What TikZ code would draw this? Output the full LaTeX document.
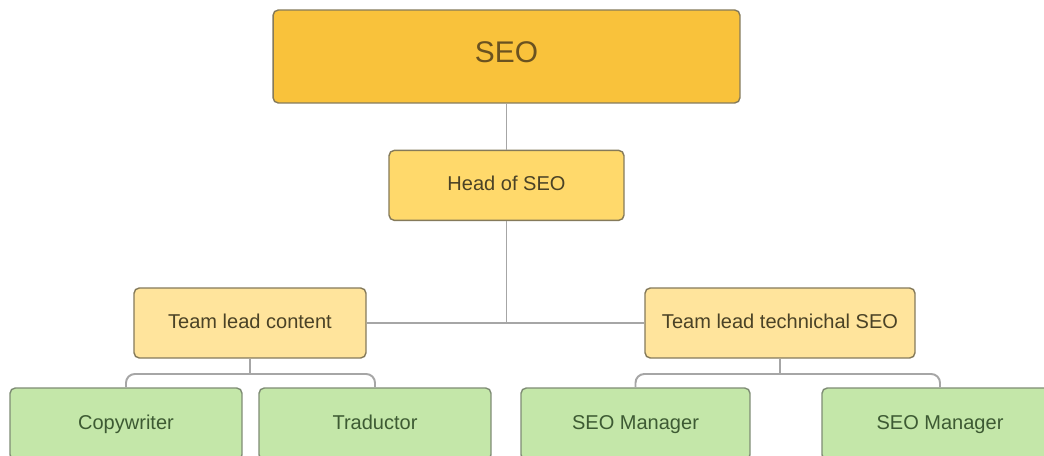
\documentclass[tikz,border=0pt]{standalone}
\usepackage{fontspec}
\setmainfont{Liberation Sans}
\usetikzlibrary{positioning}

\definecolor{seogold}{HTML}{F9C23B}
\definecolor{headyellow}{HTML}{FFD96B}
\definecolor{leadyellow}{HTML}{FFE49C}
\definecolor{staffgreen}{HTML}{C4E7A9}
\definecolor{boxedge}{HTML}{857A5A}
\definecolor{greenedge}{HTML}{7E8C74}
\definecolor{linegray}{HTML}{A6A6A6}
\definecolor{darktext}{HTML}{4A4226}
\definecolor{seotext}{HTML}{6A5220}
\definecolor{greentext}{HTML}{3D5A33}

\begin{document}
\begin{tikzpicture}[
			x=0.02cm, y=-0.02cm,
			nodes = {
				align = center
			},
			block/.style={
				draw=boxedge,
				rectangle,
				rounded corners=3pt,
				line width=0.8pt,
				inner sep=0pt,
				minimum height=1.4cm,
				text height=0.72em,
				text depth=0.1em,
				text=darktext,
				font=\fontsize{11.4}{13}\selectfont
			},
			staff/.style={
				block,
				draw=greenedge,
				fill=staffgreen,
				text=greentext,
				minimum height=1.44cm
			},
			lines/.style={
				draw=linegray,
				line width=1.1pt
			}
		]
			\useasboundingbox (0,0) rectangle (1044,456);
			\fill[white] (0,0) rectangle (1044,456);
			\clip (0,0) rectangle (1044,456);

			\node[block,fill=seogold,text=seotext,minimum width=9.34cm,minimum height=1.86cm,
				font=\fontsize{17}{20}\selectfont,text depth=0pt]
				(seo) at (506.5,56.5) {SEO};

			\node[block,fill=headyellow,minimum width=4.7cm]
				(head)
				[below=0.92cm of seo]
				{Head of SEO};

			\node[block,fill=leadyellow,minimum width=4.64cm] (tlc) at (250,323) {Team lead content};
			\node[block,fill=leadyellow,minimum width=5.4cm] (tlt) at (780,323) {Team lead technichal SEO};

			\node[staff,minimum width=4.64cm] (cw) at (126,424) {Copywriter};
			\node[staff,minimum width=4.64cm] (tr) at (375,424) {Traductor};
			\node[staff,minimum width=4.58cm] (sm1) at (635.5,424) {SEO Manager};
			\node[staff,minimum width=4.72cm] (sm2) at (940,424) {SEO Manager};

			\draw[lines] (seo) -- (head);
			\draw[lines] (head.south) -- (head.south |- tlc.east);
			\draw[lines] (tlc) -- (tlt);

			\draw[lines] (tlc.south) -- ++(0,16);
			\draw[lines,rounded corners=5pt] (cw.north) |- (250,374) -| (tr.north);
			\draw[lines] (tlt.south) -- ++(0,16);
			\draw[lines,rounded corners=5pt] (sm1.north) |- (780,374) -| (sm2.north);
		\end{tikzpicture}
\end{document}
